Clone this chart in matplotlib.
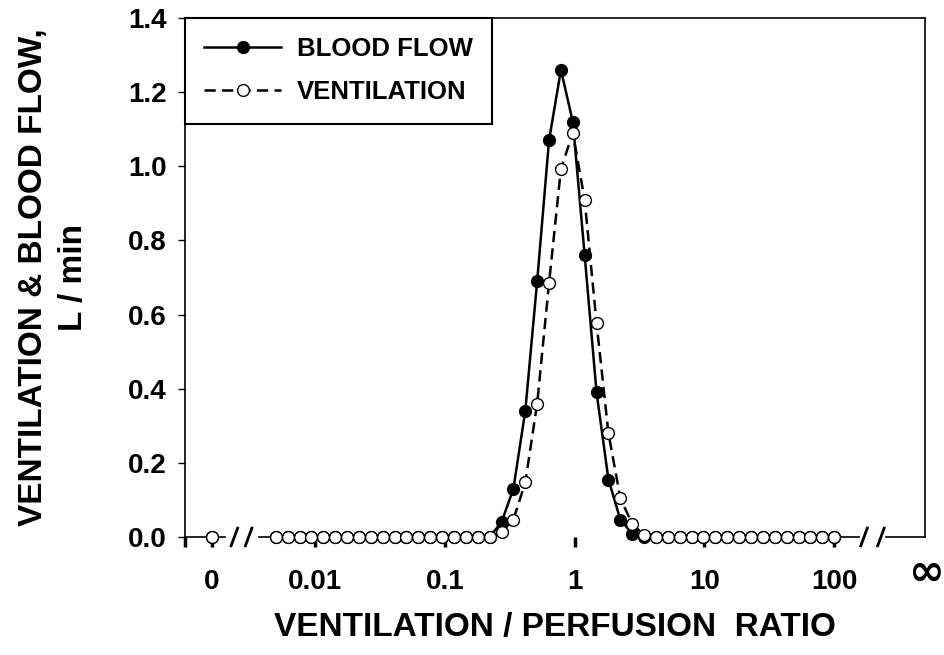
import matplotlib
matplotlib.use('Agg')
import matplotlib.pyplot as plt
from matplotlib.lines import Line2D

plt.rcParams['font.family'] = ['Liberation Sans', 'DejaVu Sans']
plt.rcParams['font.weight'] = 'bold'

# VA/Q compartments (48, log spaced 0.005 .. 100)
vaq = [0.00500, 0.00617, 0.00762, 0.00941, 0.01161, 0.01434, 0.01770, 0.02185,
       0.02698, 0.03331, 0.04112, 0.05077, 0.06268, 0.07739, 0.09552, 0.1179,
       0.1456, 0.1797, 0.2219, 0.2740, 0.3382, 0.4176, 0.5156, 0.6365,
       0.7858, 0.9702, 1.197, 1.478, 1.825, 2.253, 2.781, 3.434,
       4.239, 5.234, 6.461, 7.977, 9.845, 12.15, 15.01, 18.52,
       22.87, 28.23, 34.85, 43.03, 53.12, 65.58, 80.97, 100.0]

blood_flow = [0] * 19 + [0.04, 0.13, 0.34, 0.69, 1.07, 1.26, 1.12, 0.76,
                         0.39, 0.155, 0.047, 0.009] + [0] * 17
ventilation = [0] * 19 + [0.013, 0.047, 0.147, 0.36, 0.685, 0.993, 1.09, 0.909,
                          0.577, 0.28, 0.105, 0.035, 0.005] + [0] * 16

shunt_blood = 0.0
shunt_vent = 0.0

tick_vals = [0.01, 0.1, 1, 10, 100]
tick_labels = ['0.01', '0.1', '1', '10', '100']

# where the "0" (shunt) compartment sits on the log axis
shunt_pos = 10 ** -2.792
inf_pos = 10 ** 2.705

fig = plt.figure(figsize=(9.45, 6.55), dpi=100)
ax = fig.add_axes([0.1958, 0.1802, 0.7831, 0.7924])

ax.set_xscale('log')
ax.set_xlim(1e-3, 10 ** 2.7)
ax.set_ylim(0, 1.4)

ax.plot(vaq, blood_flow, '-', color='black', lw=1.8, marker='o', ms=8.5,
        mfc='black', mec='black', zorder=3, clip_on=False)
ax.plot(vaq, ventilation, color='black', lw=1.8, ls=(0, (4.5, 2.5)),
        marker='o', ms=8.5, mfc='white', mec='black', mew=1.0, zorder=4,
        clip_on=False)
ax.plot([shunt_pos], [shunt_blood], 'o', color='black', ms=8.5, zorder=3,
        clip_on=False)
ax.plot([shunt_pos], [shunt_vent], 'o', mfc='white', mec='black', mew=1.0,
        ms=8.5, zorder=4, clip_on=False)

# axis ticks
ax.set_xticks([1e-3, shunt_pos] + tick_vals)
ax.set_xticklabels(['', '0'] + tick_labels)
ax.minorticks_off()
ax.tick_params(axis='x', direction='out', length=7, width=2.5, pad=16,
               labelsize=20)
ax.set_yticks([0, 0.2, 0.4, 0.6, 0.8, 1.0, 1.2, 1.4])
ax.set_yticklabels(['0.0', '0.2', '0.4', '0.6', '0.8', '1.0', '1.2', '1.4'])
ax.tick_params(axis='y', direction='out', length=5, width=1, pad=8,
               labelsize=20)
for lab in ax.get_xticklabels() + ax.get_yticklabels():
    lab.set_fontweight('bold')

# bottom spine with breaks
ax.spines['bottom'].set_visible(False)
for s in ['left', 'right', 'top']:
    ax.spines[s].set_linewidth(1.2)
trans = ax.get_xaxis_transform()
segs = [(1e-3, 10 ** -2.69), (10 ** -2.43, 10 ** -2.33),
        (10 ** 2.04, 10 ** 2.19), (10 ** 2.4, 10 ** 2.7)]
for a, b in segs:
    ax.plot([a, b], [0, 0], color='black', lw=1.2, transform=trans,
            clip_on=False, zorder=2)
for c in [10 ** -2.62, 10 ** -2.51, 10 ** 2.23, 10 ** 2.36]:
    ax.plot([c / 10 ** 0.025, c * 10 ** 0.025], [-0.017, 0.017], color='black',
            lw=2.0, transform=trans, clip_on=False)

ax.text(inf_pos, -0.07, '\u221e', transform=trans, ha='center', va='center',
        fontsize=31, fontweight='bold', family=['DejaVu Sans'])

ax.set_xlabel('VENTILATION / PERFUSION  RATIO', fontsize=24,
              fontweight='bold', labelpad=12)
ax.set_ylabel('VENTILATION & BLOOD FLOW,\nL / min', fontsize=24,
              fontweight='bold', labelpad=28, linespacing=1.4)

handles = [
    Line2D([], [], color='black', lw=1.8, marker='o', ms=8.5, mfc='black'),
    Line2D([], [], color='black', lw=1.8, ls=(0, (4.5, 2.5)), marker='o',
           ms=8.5, mfc='white', mew=1.0),
]
leg = ax.legend(handles, ['BLOOD FLOW', 'VENTILATION'], loc='upper left',
                bbox_to_anchor=(0, 1), borderaxespad=0, fancybox=False,
                framealpha=1, edgecolor='black', handlelength=3.0,
                prop={'weight': 'bold', 'size': 18.5}, borderpad=0.75,
                labelspacing=0.75, handletextpad=0.6)
leg.get_frame().set_linewidth(1.5)

fig.savefig('out.png', dpi=100)
